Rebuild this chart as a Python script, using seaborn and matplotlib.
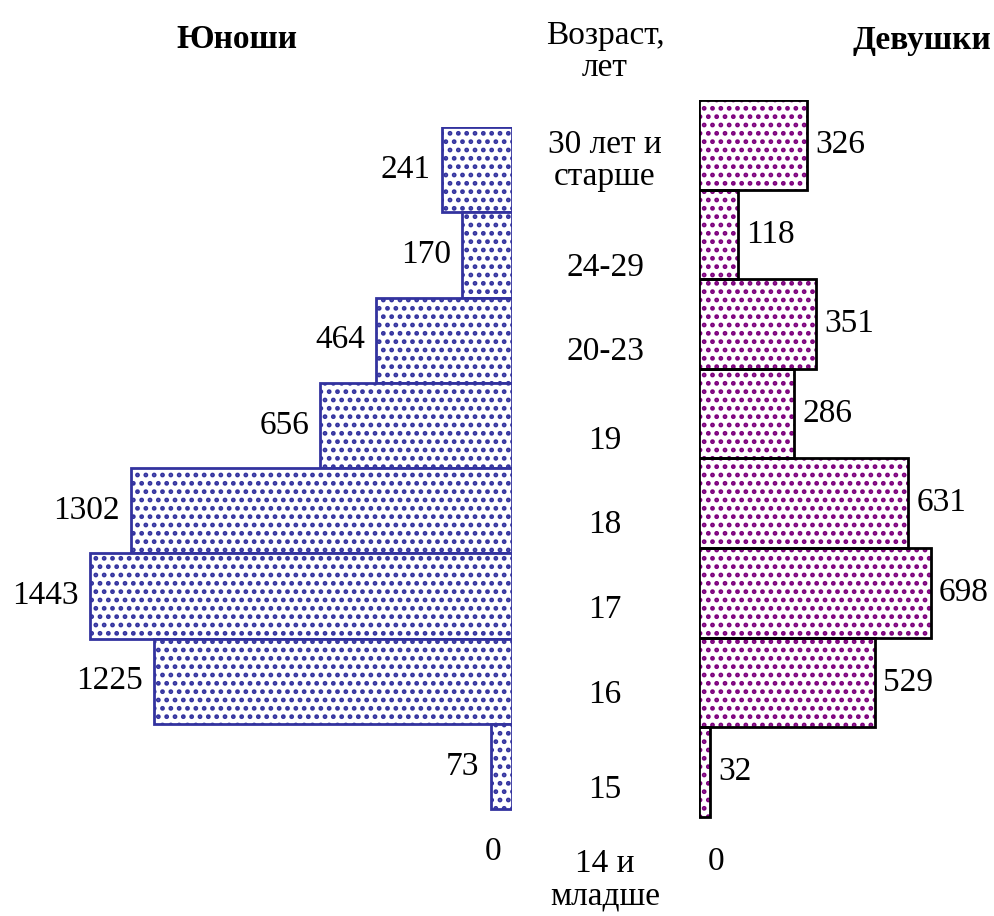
import matplotlib
matplotlib.use('Agg')
import matplotlib.pyplot as plt
import seaborn as sns
import pandas as pd
from matplotlib.patches import Rectangle

sns.set_style('white')
plt.rcParams['font.family'] = ['Liberation Serif', 'DejaVu Serif']
plt.rcParams['text.color'] = 'black'
plt.rcParams['hatch.linewidth'] = 2.2

ages = ['30 лет и\nстарше', '24-29', '20-23', '19', '18', '17', '16', '15', '14 и\nмладше']
boys = [241, 170, 464, 656, 1302, 1443, 1225, 73, 0]
girls = [326, 118, 351, 286, 631, 698, 529, 32, 0]

df = pd.DataFrame({'age': ages, 'boys': boys, 'girls': girls})

W, H = 994, 916
fig = plt.figure(figsize=(W / 100, H / 100), dpi=100)

def px_axes(x0, y0, x1, y1):
    return fig.add_axes([x0 / W, 1 - y1 / H, (x1 - x0) / W, (y1 - y0) / H])

FS = 24
blue = '#33339f'
purple = '#7d007d'

# left panel: boys, bars grow to the left
axl = px_axes(0, 127, 512, 127 + 9 * 85.25)
sns.barplot(data=df, x='boys', y='age', orient='h', ax=axl, color='white',
            edgecolor=blue, linewidth=2, width=1.0)
for p in axl.patches:
    p.set_hatch('..')
    if p.get_width() == 0:
        p.set_visible(False)
axl.set_xlim(512 / 0.2925, 0)
axl.set_ylim(len(ages) - 0.5, -0.5)
for i, v in enumerate(boys):
    axl.annotate(str(v), (v, i), xytext=(-8, 0), textcoords='offset points',
                 ha='right', va='center', fontsize=FS)

# right panel: girls
axr = px_axes(699, 100, 994, 100 + 9 * 89.6)
sns.barplot(data=df, x='girls', y='age', orient='h', ax=axr, color='white',
            edgecolor=purple, linewidth=0, width=1.0)
for p in list(axr.patches):
    p.set_hatch('..')
    if p.get_width() > 0:
        axr.add_patch(Rectangle(p.get_xy(), p.get_width(), p.get_height(),
                                fill=False, edgecolor='black', linewidth=2))
axr.set_xlim(0, 295 / 0.332)
axr.set_ylim(len(ages) - 0.5, -0.5)
for i, v in enumerate(girls):
    axr.annotate(str(v), (v, i), xytext=(6, 0), textcoords='offset points',
                 ha='left', va='center', fontsize=FS)

for ax in (axl, axr):
    ax.axis('off')

def ftext(x, y, s, **kw):
    fig.text(x / W, 1 - y / H, s, ha='center', va='center', fontsize=FS,
             linespacing=1.05, **kw)

ftext(237, 40, 'Юноши', fontweight='bold')
ftext(922, 40, 'Девушки', fontweight='bold')
ftext(605, 52, 'Возраст,\nлет')

# age labels in the middle column
label_y = [161, 268, 352, 441, 525, 610, 695, 790, 880]
for s, y in zip(ages, label_y):
    ftext(605, y, s)

fig.savefig('out.png', dpi=100)
